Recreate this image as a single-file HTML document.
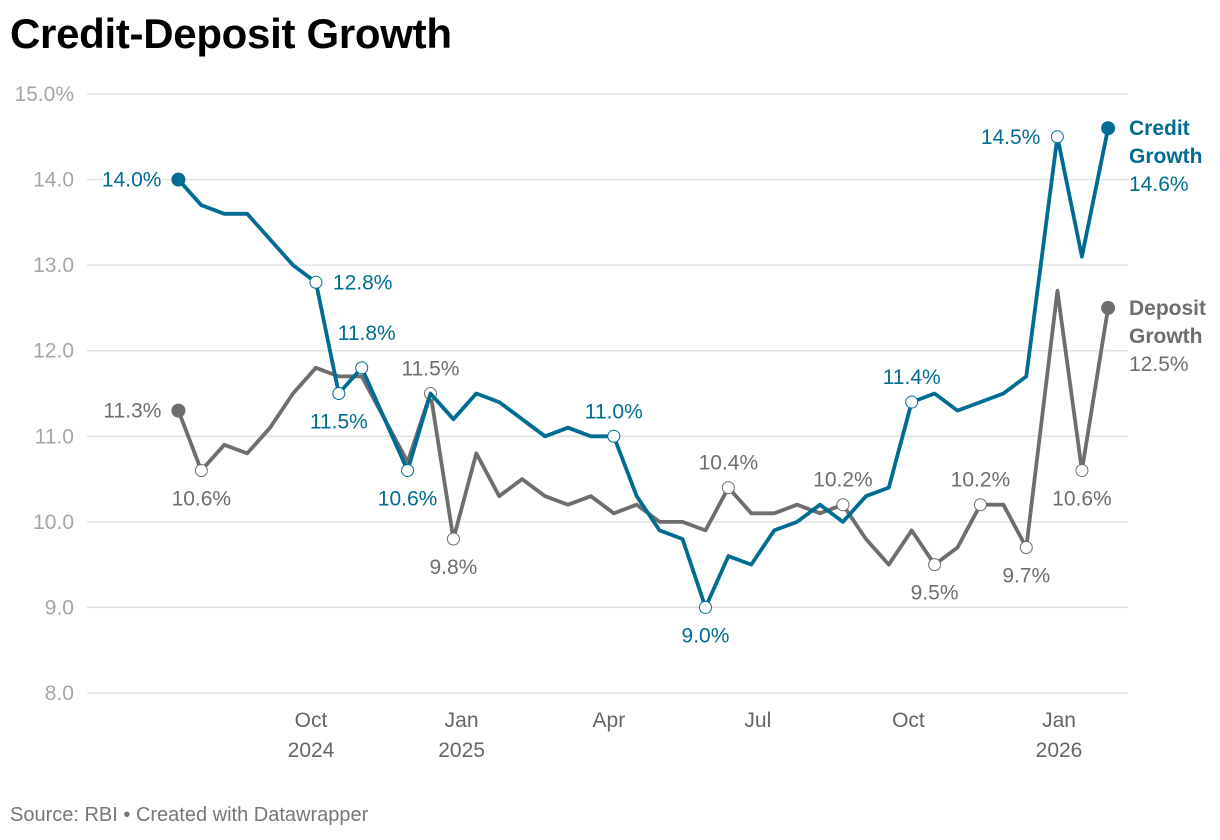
<!DOCTYPE html>
<html><head><meta charset="utf-8">
<style>
body{margin:0;background:#fff;width:1220px;height:840px;overflow:hidden;font-family:"Liberation Sans",sans-serif;}
#title{position:absolute;left:10px;top:10px;font-size:42px;font-weight:bold;color:#000;letter-spacing:-0.3px;}
#source{position:absolute;left:10px;top:804px;font-size:20px;color:#777;}
svg{position:absolute;left:0;top:0;}
</style></head>
<body>
<div id="title">Credit-Deposit Growth</div>
<div id="source">Source: RBI • Created with Datawrapper</div>
<svg id="chart" width="1220" height="840"></svg>
<script>
const dates=["2024-07-12","2024-07-26","2024-08-09","2024-08-23","2024-09-06","2024-09-20","2024-10-04","2024-10-18","2024-11-01","2024-11-15","2024-11-29","2024-12-13","2024-12-27","2025-01-10","2025-01-24","2025-02-07","2025-02-21","2025-03-07","2025-03-21","2025-04-04","2025-04-18","2025-05-02","2025-05-16","2025-05-30","2025-06-13","2025-06-27","2025-07-11","2025-07-25","2025-08-08","2025-08-22","2025-09-05","2025-09-19","2025-10-03","2025-10-17","2025-10-31","2025-11-14","2025-11-28","2025-12-12","2025-12-31","2026-01-15","2026-01-31"];
const creditGrowth=[14.0,13.7,13.6,13.6,13.3,13.0,12.8,11.5,11.8,11.2,10.6,11.5,11.2,11.5,11.4,11.2,11.0,11.1,11.0,11.0,10.3,9.9,9.8,9.0,9.6,9.5,9.9,10.0,10.2,10.0,10.3,10.4,11.4,11.5,11.3,11.4,11.5,11.7,14.5,13.1,14.6];
const depositGrowth=[11.3,10.6,10.9,10.8,11.1,11.5,11.8,11.7,11.7,11.2,10.7,11.5,9.8,10.8,10.3,10.5,10.3,10.2,10.3,10.1,10.2,10.0,10.0,9.9,10.4,10.1,10.1,10.2,10.1,10.2,9.8,9.5,9.9,9.5,9.7,10.2,10.2,9.7,12.7,10.6,12.5];
const yTicks=[8,9,10,11,12,13,14,15];
const yTickLabels=["8.0","9.0","10.0","11.0","12.0","13.0","14.0","15.0%"];
const xTickDates=["2024-10-01","2025-01-01","2025-04-01","2025-07-01","2025-10-01","2026-01-01"];
const xTickMonths=["Oct","Jan","Apr","Jul","Oct","Jan"];
const xTickYears=["2024","2025","","","","2026"];
const creditLabelIdx=[0,6,8,7,10,19,23,32,38];
const creditLabelPos=["left","right","above2","below","below","above","below","above","left"];
const depositLabelIdx=[0,1,11,12,24,29,33,35,37,39];
const depositLabelPos=["left","below","above","below","above","above","below","above","below","below"];

const NS="http://www.w3.org/2000/svg";
const svg=document.getElementById('chart');
const BLUE="#006c91",GREY="#6e6e6e";
const t0=Date.parse("2024-10-01"),t1=Date.parse("2026-01-01");
function xs(d){return 311+(Date.parse(d)-t0)/(t1-t0)*(1059-311);}
function ys(v){return 693-(v-8)*(693-94)/7;}
function mk(tag,attrs){const e=document.createElementNS(NS,tag);for(const k in attrs)e.setAttribute(k,attrs[k]);svg.appendChild(e);return e;}

yTicks.forEach((v,i)=>{
  const l=mk('line',{x1:87,x2:1128,y1:ys(v),y2:ys(v),stroke:'#e2e2e2','stroke-width':1.5});
  
  
  const t=mk('text',{x:74,y:ys(v)+7,'text-anchor':'end','font-size':21,fill:'#a6a6a6'});
  t.textContent=yTickLabels[i];
  
  
});
xTickDates.forEach((d,i)=>{
  const t=mk('text',{x:xs(d),y:727,'text-anchor':'middle','font-size':21,fill:'#666'});
  t.textContent=xTickMonths[i];
  
  
  if(xTickYears[i]){
    const t2=mk('text',{x:xs(d),y:757,'text-anchor':'middle','font-size':21,fill:'#666'});
    t2.textContent=xTickYears[i];
    
    
  }
});

function series(vals,color,name,lIdx,lPos){
  const pts=vals.map((v,i)=>xs(dates[i]).toFixed(1)+","+ys(v).toFixed(1)).join(" ");
  const pl=mk('polyline',{points:pts,fill:'none',stroke:color,'stroke-width':3.8,'stroke-linejoin':'round'});
  
  
  [0,vals.length-1].forEach(i=>{
    const c=mk('circle',{cx:xs(dates[i]),cy:ys(vals[i]),r:7,fill:color});
    
    
  });
  lIdx.forEach((i,k)=>{
    const x=xs(dates[i]),y=ys(vals[i]);
    if(i!==0&&i!==vals.length-1){
      const c2=mk('circle',{cx:x,cy:y,r:6,fill:'#fff',stroke:color,'stroke-width':1});
      
      
    }
    const p=lPos[k];let tx=x,ty=y+7,anc='middle';
    if(p==='left'){tx=x-17;anc='end';}
    else if(p==='right'){tx=x+17;anc='start';}
    else if(p==='above'){ty=y-18;}
    else if(p==='above2'){ty=y-28;tx=x+5;}
    else if(p==='below'){ty=y+35;}
    const t=mk('text',{x:tx,y:ty,'text-anchor':anc,'font-size':21,fill:color,stroke:'#fff','stroke-width':4,'paint-order':'stroke'});
    t.textContent=vals[i].toFixed(1)+"%";
    
    
  });
  const last=vals.length-1,ly=ys(vals[last]);
  const a=mk('text',{x:1129,y:ly+7,'font-size':21,'font-weight':'bold',fill:color});
  a.textContent=name==='credit'?'Credit':'Deposit';
  
  
  const b=mk('text',{x:1129,y:ly+35,'font-size':21,'font-weight':'bold',fill:color});
  b.textContent='Growth';
  
  
  const c=mk('text',{x:1129,y:ly+63,'font-size':21,fill:color});
  c.textContent=vals[last].toFixed(1)+"%";
  
  
}
series(depositGrowth,GREY,'deposit',depositLabelIdx,depositLabelPos);
series(creditGrowth,BLUE,'credit',creditLabelIdx,creditLabelPos);
</script>
</body></html>
